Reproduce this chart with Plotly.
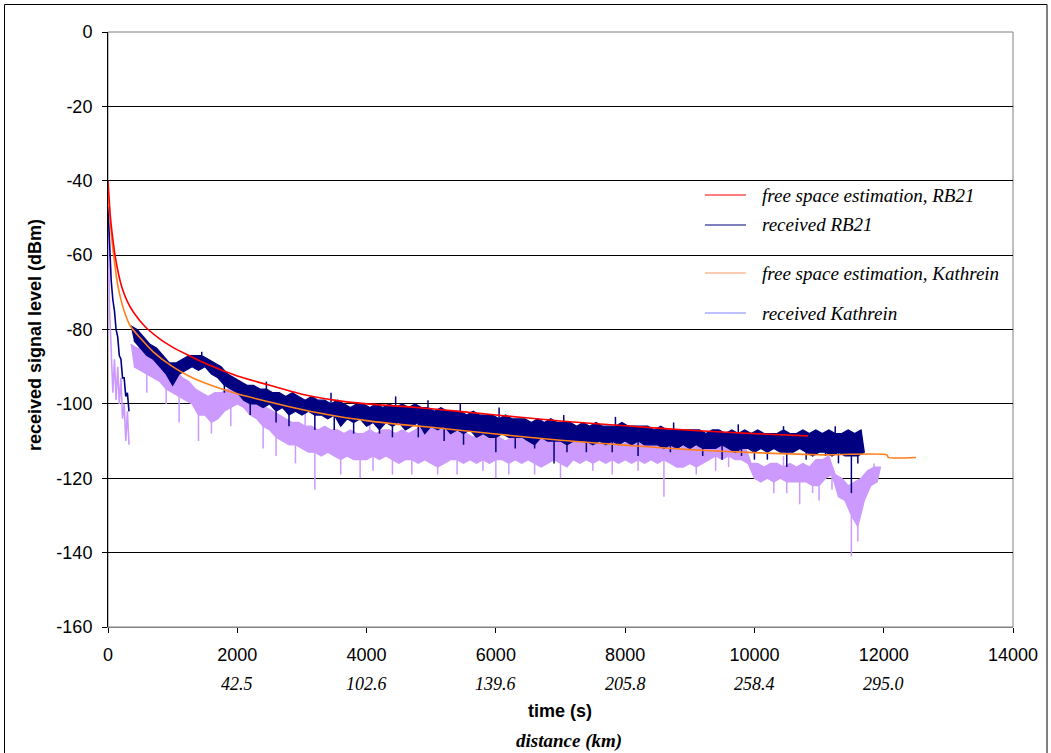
import plotly.graph_objects as go

# ---------------- data ----------------
# free space estimation, RB21
red_t = [0, 25, 50, 100, 150, 212, 300, 400, 572, 800, 985, 1250, 1500, 2000, 2500,
         3000, 3500, 4000, 4500, 5000, 6000, 7000, 8000, 9000, 10000, 10830]
red_v = [-40, -47, -52, -59, -64, -68.5, -72.5, -75.5, -79.2, -82.5, -84.6, -87, -89.1,
         -92.5, -95, -97.4, -99, -100, -100.6, -101.3, -103, -104.6, -105.9, -107.1,
         -108, -108.6]

# free space estimation, Kathrein
orange_t = [0, 25, 50, 80, 150, 250, 350, 500, 700, 1000, 1250, 1500, 2000, 2500, 3000,
            3500, 4000, 4500, 5000, 6000, 7000, 8000, 9000, 10000, 11000, 12050, 12070,
            12500]
orange_v = [-42, -49, -54, -59, -68, -75, -79.2, -82.3, -86, -90, -92.5, -94.4, -97.3,
            -99.5, -101.5, -103.2, -104.5, -105.5, -106.3, -108.1, -109.8, -111.1,
            -112.3, -113.1, -113.7, -113.7, -114.4, -114.4]

# received RB21 -- first pass (0..325 s)
navy_t1 = [0, 25, 50, 75, 100, 125, 150, 175, 200, 225, 250, 275, 300, 325]
navy_v1 = [-47, -58, -67, -72, -75, -80, -82, -87, -88, -93, -93, -98, -97, -102]
# received RB21 -- main pass: noise band tops (every 100 s from 350 s) and bottoms (from 400 s)
navy_hi_t = list(range(350, 11651, 100))
navy_hi = [
    -79, -80, -82, -84, -85, -87, -89, -89, -88, -87,
    -87, -87, -88, -89, -90, -92, -93, -94, -95, -95,
    -96, -96, -97, -97, -98, -97, -98, -99, -98, -99,
    -99, -100, -99, -100, -101, -100, -100, -101, -100, -101,
    -100, -101, -100, -101, -100, -101, -101, -102, -101, -102,
    -102, -102, -103, -102, -103, -103, -103, -104, -103, -104,
    -104, -104, -105, -104, -105, -104, -105, -105, -105, -106,
    -105, -106, -105, -106, -106, -106, -105, -106, -106, -106,
    -106, -107, -106, -107, -107, -107, -107, -107, -107, -108,
    -107, -107, -108, -107, -108, -107, -108, -107, -108, -108,
    -108, -107, -108, -108, -107, -108, -107, -108, -107, -108,
    -108, -107, -108, -107,
]
navy_lo_t = list(range(400, 11701, 100))
navy_lo = [
    -83, -85, -87, -88, -90, -92, -95, -92, -91, -90,
    -91, -90, -92, -93, -95, -96, -97, -99, -100, -100,
    -101, -100, -102, -101, -103, -102, -103, -102, -103, -103,
    -104, -103, -106, -104, -105, -104, -106, -105, -107, -105,
    -106, -105, -107, -106, -105, -108, -106, -107, -106, -108,
    -107, -108, -107, -109, -108, -109, -109, -108, -109, -109,
    -109, -110, -111, -109, -110, -110, -110, -111, -110, -110,
    -110, -111, -110, -111, -110, -111, -110, -111, -110, -111,
    -111, -111, -112, -111, -112, -111, -112, -111, -112, -112,
    -112, -111, -112, -113, -112, -112, -113, -112, -113, -112,
    -113, -113, -113, -112, -113, -114, -113, -113, -114, -113,
    -114, -114, -114, -113,
]
# short excursions beyond the band (time, level)
navy_spike_t = [1450, 2450, 3450, 4450, 4950, 5450, 6050, 7050, 7850, 8750, 9750, 10450, 11250,
                1800, 2200, 2600, 2800, 3200, 3500, 3800, 4200, 4400, 4800, 5200, 5500, 6000,
                6300, 6600, 6900, 7100, 7400, 7800, 8200, 8700, 9200, 9500, 9800, 10000,
                10200, 10500, 10800, 11100, 11300, 11500, 11600]
navy_spike_v = [-86, -94, -97, -98, -99, -100, -101, -103, -103.5, -105, -105.5, -106, -106,
                -97, -103, -105, -106, -107, -107, -108, -108, -109, -109, -110, -111, -113,
                -112, -112, -116, -113, -113, -113, -114, -113, -114, -115, -114, -115,
                -115, -117, -115, -114, -116, -124, -116]

# received Kathrein -- first pass (0..325 s)
lav_t1 = [0, 25, 50, 75, 100, 125, 150, 175, 200, 225, 250, 275, 300, 325]
lav_v1 = [-50, -75, -86, -97, -88, -99, -90, -100, -93, -104, -100, -110, -102, -111]
# received Kathrein -- main pass band tops (from 350 s) and bottoms (from 400 s)
lav_hi_t = list(range(350, 11951, 100))
lav_hi = [
    -84, -85, -85, -86, -87, -89, -90, -91, -93, -94,
    -96, -97, -98, -97, -97, -96, -96, -97, -97, -98,
    -100, -101, -102, -103, -104, -105, -105, -106, -106, -107,
    -106, -107, -107, -108, -107, -108, -108, -107, -108, -107,
    -107, -108, -107, -108, -107, -106, -107, -106, -107, -106,
    -107, -108, -108, -109, -108, -109, -109, -109, -110, -109,
    -109, -110, -109, -110, -109, -110, -109, -110, -110, -109,
    -110, -110, -110, -111, -110, -110, -111, -110, -110, -111,
    -110, -111, -110, -111, -111, -112, -111, -112, -111, -111,
    -110, -111, -110, -111, -111, -111, -116, -116, -117, -116,
    -116, -117, -116, -117, -116, -117, -115, -115, -114, -119,
    -120, -122, -121, -120, -118, -117, -117,
]
lav_lo_t = list(range(400, 11901, 100))
lav_lo = [
    -90, -91, -92, -93, -94, -96, -97, -98, -99, -100,
    -103, -103, -105, -104, -102, -101, -100, -101, -103, -104,
    -106, -107, -109, -110, -111, -111, -112, -113, -113, -114,
    -113, -114, -115, -114, -115, -115, -115, -114, -115, -114,
    -115, -116, -115, -115, -116, -115, -116, -117, -116, -115,
    -115, -116, -115, -116, -115, -116, -115, -115, -116, -115,
    -116, -115, -116, -117, -116, -115, -116, -117, -115, -116,
    -115, -116, -115, -116, -115, -116, -115, -116, -115, -116,
    -115, -116, -115, -116, -117, -117, -116, -117, -116, -115,
    -114, -115, -114, -115, -115, -116, -120, -121, -120, -121,
    -120, -121, -121, -121, -121, -122, -122, -120, -119, -125,
    -126, -130, -133, -126, -122, -121,
]
lav_spike_t = [1050, 2050, 3050, 4050, 5050, 6050, 7050, 8050, 9050, 10450, 11850,
               600, 900, 1100, 1400, 1600, 1900, 2400, 2600, 2900, 3200, 3600, 3900, 4100,
               4400, 4700, 5100, 5400, 5800, 6000, 6200, 6600, 7000, 7500, 7800, 8200, 8600,
               9100, 9400, 9600, 10300, 10500, 10700, 10900, 11000, 11200, 11500, 11600]
lav_spike_v = [-90, -94, -102, -104, -104, -106, -107, -108, -109, -114, -116,
               -97, -100, -105, -110, -108, -106, -112, -114, -116, -123, -119, -120, -118,
               -119, -119, -119, -119, -118, -120, -119, -119, -120, -118, -119, -118, -125,
               -119, -118, -117, -124, -124, -127, -124, -126, -123, -141, -137]

# axis ticks
x_ticks = [0, 2000, 4000, 6000, 8000, 10000, 12000, 14000]
x_tick_text = ["0", "2000", "4000", "6000", "8000", "10000", "12000", "14000"]
y_ticks = [0, -20, -40, -60, -80, -100, -120, -140, -160]
y_tick_text = ["0", "-20", "-40", "-60", "-80", "-100", "-120", "-140", "-160"]

# secondary x labels (distance, km) under time ticks
dist_ticks = [2000, 4000, 6000, 8000, 10000, 12000]
dist_labels = ["42.5", "102.6", "139.6", "205.8", "258.4", "295.0"]

names = ["free space estimation, RB21", "received RB21",
         "free space estimation, Kathrein", "received Kathrein"]
colors = ["#FF0000", "#000080", "#FF7F1E", "#CC99FF"]


# ---------------- figure ----------------
def noisy_series(fig, t1, v1, hi_t, hi, lo_t, lo, sp_t, sp_v, color, name):
    # opening pass
    fig.add_trace(go.Scatter(x=t1, y=v1, mode="lines", line=dict(color=color, width=1.6),
                             name=name, showlegend=False, hoverinfo="skip"))
    # noise band: tops forward, bottoms backward
    bx = hi_t + lo_t[::-1]
    by = hi + lo[::-1]
    fig.add_trace(go.Scatter(x=bx, y=by, mode="lines", fill="toself", fillcolor=color,
                             line=dict(color=color, width=1.2), name=name,
                             showlegend=False, hoverinfo="skip"))
    # short excursions: from the band edge they leave
    top = dict(zip(hi_t, hi))
    bottom = dict(zip(lo_t, lo))
    sx, sy = [], []
    for t, v in zip(sp_t, sp_v):
        b = top[t] if (t in top and v > top[t]) else bottom[t]
        sx += [t, t, None]
        sy += [b, v, None]
    fig.add_trace(go.Scatter(x=sx, y=sy, mode="lines", line=dict(color=color, width=1.5),
                             name=name, showlegend=False, hoverinfo="skip"))


fig = go.Figure()
noisy_series(fig, lav_t1, lav_v1, lav_hi_t, lav_hi, lav_lo_t, lav_lo,
             lav_spike_t, lav_spike_v, colors[3], names[3])
noisy_series(fig, navy_t1, navy_v1, navy_hi_t, navy_hi, navy_lo_t, navy_lo,
             navy_spike_t, navy_spike_v, colors[1], names[1])
fig.add_trace(go.Scatter(x=orange_t, y=orange_v, mode="lines",
                         line=dict(color=colors[2], width=1.6, shape="spline", smoothing=0.6),
                         name=names[2], showlegend=False))
fig.add_trace(go.Scatter(x=red_t, y=red_v, mode="lines",
                         line=dict(color=colors[0], width=1.6, shape="spline", smoothing=0.6),
                         name=names[0], showlegend=False))

W, H = 1051, 753
L, R, T, B = 108, 38, 32, 126
pw, ph = W - L - R, H - T - B


def px2paper_x(px):
    return (px - L) / pw


def px2paper_y(py):
    return (H - B - py) / ph


tick_font = dict(family="Arial, Liberation Sans, sans-serif", size=18, color="#000000")
serif = "Liberation Serif, Times New Roman, serif"
sans = "Arial, Liberation Sans, sans-serif"

fig.update_layout(
    width=W, height=H,
    margin=dict(l=L, r=R, t=T, b=B, pad=0),
    paper_bgcolor="white", plot_bgcolor="white",
    showlegend=False,
    xaxis=dict(range=[0, 14000], tickvals=x_ticks, ticktext=x_tick_text,
               showgrid=False, zeroline=False, showline=True, linecolor="#808080",
               linewidth=1, ticks="outside", ticklen=5, tickcolor="#000000",
               tickfont=tick_font, ticklabelstandoff=6),
    yaxis=dict(range=[-160, 0], tickvals=y_ticks, ticktext=y_tick_text,
               showgrid=True, gridcolor="#000000", gridwidth=1, zeroline=False,
               showline=True, linecolor="#000000", linewidth=1, ticks="outside",
               ticklen=5, tickcolor="#000000", tickfont=tick_font, ticklabelstandoff=6),
)

shapes = []
# plot area border (grey)
shapes.append(dict(type="rect", xref="paper", yref="paper", x0=0, x1=1, y0=0, y1=1,
                   line=dict(color="#808080", width=1), layer="below"))
# outer chart border
shapes.append(dict(type="rect", xref="paper", yref="paper",
                   x0=px2paper_x(4.5), x1=px2paper_x(1047), y0=px2paper_y(760), y1=px2paper_y(4.5),
                   line=dict(color="#000000", width=1)))

annotations = []
# manual legend
leg_rows = [195, 225, 273, 313]
leg_colors = ["#FF0000", "#000080", "#FF9966", "#8080FF"]
for row, nm, lc in zip(leg_rows, names, leg_colors):
    yy = px2paper_y(row)
    shapes.append(dict(type="line", xref="paper", yref="paper",
                       x0=px2paper_x(705), x1=px2paper_x(746), y0=yy, y1=yy,
                       line=dict(color=lc, width=1.2)))
    annotations.append(dict(xref="paper", yref="paper", x=px2paper_x(760), y=yy,
                            xanchor="left", yanchor="middle", showarrow=False,
                            text="<i>" + nm + "</i>",
                            font=dict(family=serif, size=19, color="#000000")))

# distance labels
for xv, lab in zip(dist_ticks, dist_labels):
    annotations.append(dict(xref="x", yref="paper", x=xv, y=px2paper_y(684),
                            xanchor="center", yanchor="middle", showarrow=False,
                            text="<i>" + lab + "</i>",
                            font=dict(family=serif, size=18, color="#000000")))

# axis titles
annotations.append(dict(xref="paper", yref="paper", x=px2paper_x(560), y=px2paper_y(711),
                        xanchor="center", yanchor="middle", showarrow=False,
                        text="<b>time (s)</b>",
                        font=dict(family=sans, size=18, color="#000000")))
annotations.append(dict(xref="paper", yref="paper", x=px2paper_x(569), y=px2paper_y(741),
                        xanchor="center", yanchor="middle", showarrow=False,
                        text="<b><i>distance (km)</i></b>",
                        font=dict(family=serif, size=19, color="#000000")))
annotations.append(dict(xref="paper", yref="paper", x=px2paper_x(35), y=px2paper_y(335),
                        xanchor="center", yanchor="middle", showarrow=False, textangle=-90,
                        text="<b>received signal level (dBm)</b>",
                        font=dict(family=sans, size=18, color="#000000")))

fig.update_layout(shapes=shapes, annotations=annotations)
fig.write_html("out.html")
